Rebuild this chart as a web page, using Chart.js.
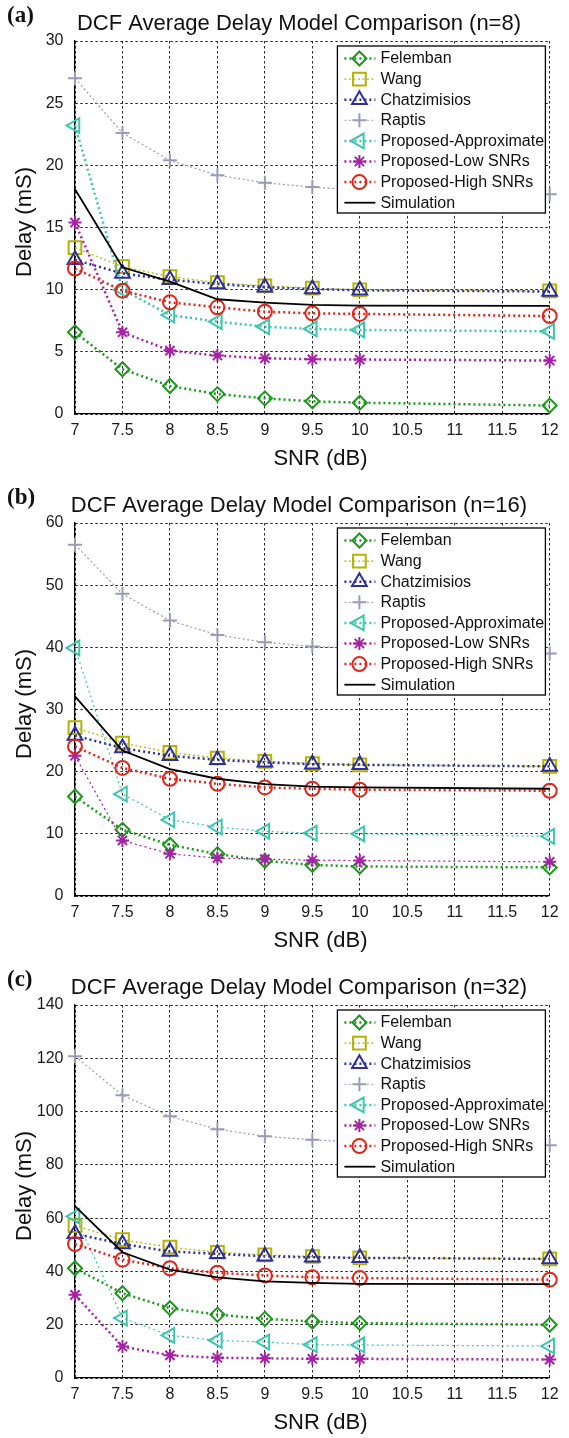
<!DOCTYPE html>
<html>
<head>
<meta charset="utf-8">
<script src="https://cdn.jsdelivr.net/npm/chart.js@4.4.1/dist/chart.umd.min.js"></script>
<style>
    html, body { margin: 0; padding: 0; background: #fff; overflow: hidden; }
    .panel { position: absolute; left: 0; width: 569px; height: 482px; }
</style>
</head>
<body>
<div class="panel" style="top:0px"><canvas id="chartA" width="569" height="482"></canvas></div>
<div class="panel" style="top:482px"><canvas id="chartB" width="569" height="482"></canvas></div>
<div class="panel" style="top:964px"><canvas id="chartC" width="569" height="482"></canvas></div>
<script>
// x values (SNR in dB) where the models were evaluated
const snr = [7, 7.5, 8, 8.5, 9, 9.5, 10, 12];
const snrTicks = [7, 7.5, 8, 8.5, 9, 9.5, 10, 10.5, 11, 11.5, 12];

const modelNames = [
    'Felemban',
    'Wang',
    'Chatzimisios',
    'Raptis',
    'Proposed-Approximate',
    'Proposed-Low SNRs',
    'Proposed-High SNRs',
    'Simulation'
];

// n = 8
const felembanN8 = [6.57, 3.6, 2.25, 1.6, 1.26, 1.02, 0.91, 0.68];
const wangN8 = [13.38, 11.85, 11.05, 10.56, 10.3, 10.12, 9.98, 9.9];
const chatzN8 = [12.4, 11.3, 10.8, 10.45, 10.2, 10.05, 9.95, 9.85];
const raptisN8 = [27.0, 22.6, 20.4, 19.2, 18.6, 18.25, 18.0, 17.67];
const approxN8 = [23.2, 10.0, 7.96, 7.43, 7.02, 6.84, 6.76, 6.65];
const lowN8 = [15.4, 6.57, 5.1, 4.7, 4.48, 4.4, 4.38, 4.3];
const highN8 = [11.7, 9.92, 8.98, 8.58, 8.23, 8.1, 8.05, 7.88];
const simN8 = [18.08, 11.8, 10.64, 9.23, 8.96, 8.77, 8.71, 8.69];

// n = 16
const felembanN16 = [16.0, 10.65, 8.24, 6.74, 5.66, 5.0, 4.75, 4.6];
const wangN16 = [27.1, 24.6, 23.1, 22.2, 21.65, 21.3, 21.1, 20.85];
const chatzN16 = [25.8, 23.8, 22.55, 21.9, 21.5, 21.2, 21.1, 20.85];
const raptisN16 = [56.5, 48.6, 44.3, 42.0, 40.8, 40.15, 39.8, 39.0];
const approxN16 = [39.9, 16.4, 12.26, 11.1, 10.4, 10.1, 10.0, 9.6];
const lowN16 = [22.56, 8.93, 6.79, 6.1, 5.93, 5.75, 5.7, 5.5];
const highN16 = [24.06, 20.6, 18.86, 18.05, 17.46, 17.25, 17.1, 16.93];
const simN16 = [32.1, 23.4, 20.4, 18.86, 18.0, 17.6, 17.46, 17.25];

// n = 32
const felembanN32 = [41.2, 31.8, 26.2, 23.8, 22.2, 21.2, 20.6, 20.0];
const wangN32 = [57.2, 51.9, 49.1, 47.2, 46.2, 45.6, 45.1, 44.7];
const chatzN32 = [54.1, 50.3, 47.5, 46.6, 45.7, 45.3, 45.1, 44.7];
const raptisN32 = [120.8, 106.1, 98.2, 93.4, 90.7, 89.4, 88.5, 87.4];
const approxN32 = [60.7, 22.5, 16.0, 14.1, 13.5, 12.5, 12.4, 12.0];
const lowN32 = [31.2, 11.8, 8.5, 7.6, 7.4, 7.2, 7.2, 6.9];
const highN32 = [50.3, 44.4, 41.2, 39.5, 38.5, 37.8, 37.5, 36.9];
const simN32 = [64.5, 47.2, 40.7, 37.8, 36.3, 35.7, 35.3, 35.2];

// y axis ranges per panel
const yMaxes = [30, 60, 140];
const ySteps = [5, 10, 20];

// look of each series (MATLAB-like markers)
const seriesStyles = [
    { color: '#1a9a1a', point: 'rectRot', radius: 7, rotation: 0, width: 2.5, dash: [2, 3] },
    { color: '#b3b300', point: 'rect', radius: 9, rotation: 0, width: 1.2, dash: [2, 2.5] },
    { color: '#2e2e9c', point: 'triangle', radius: 8.5, rotation: 0, width: 2.5, dash: [2, 3] },
    { color: '#9b9bb8', point: 'cross', radius: 7, rotation: 0, width: 1, dash: [2, 2.5] },
    { color: '#3cc6ac', point: 'triangle', radius: 8.5, rotation: -90, width: 2.5, dash: [2, 3] },
    { color: '#a521a5', point: 'star', radius: 6.5, rotation: 0, width: 2.5, dash: [2, 3] },
    { color: '#e0261c', point: 'circle', radius: 7, rotation: 0, width: 2.5, dash: [2, 3] },
    { color: '#000000', point: false, radius: 0, rotation: 0, width: 1.8, dash: [] }
];

const fontSans = '"Liberation Sans", Arial, Helvetica, sans-serif';

// title, panel letter, axis titles and the in-plot legend
const panelDecor = {
    id: 'panelDecor',
    afterDraw(chart, args, opts) {
        const ctx = chart.ctx;
        const area = chart.chartArea;
        ctx.save();
        ctx.fillStyle = '#111';

        ctx.font = 'bold 23px "Liberation Serif", "Times New Roman", serif';
        ctx.textAlign = 'left';
        ctx.textBaseline = 'alphabetic';
        ctx.fillText(opts.letter, 7, 22);

        ctx.font = '22px ' + fontSans;
        ctx.textAlign = 'center';
        ctx.fillText(opts.title, 299, 29.5);

        ctx.textBaseline = 'middle';
        ctx.fillText('SNR (dB)', 320.5, 458.5);
        ctx.save();
        ctx.translate(24.5, 222);
        ctx.rotate(-Math.PI / 2);
        ctx.fillText('Delay (mS)', 0, 0);
        ctx.restore();

        // legend box
        const lw = 208, lh = 167;
        const lx = area.right - 4.3 - lw;
        const ly = area.top + 5;
        ctx.fillStyle = '#fff';
        ctx.fillRect(lx, ly, lw, lh);
        ctx.strokeStyle = '#000';
        ctx.lineWidth = 1.3;
        ctx.strokeRect(lx, ly, lw, lh);

        ctx.font = '16px ' + fontSans;
        ctx.textAlign = 'left';
        modelNames.forEach((name, i) => {
            const st = seriesStyles[i];
            const y = ly + 12.5 + i * 20.6;
            ctx.save();
            ctx.strokeStyle = st.color;
            ctx.lineWidth = st.width;
            ctx.setLineDash(st.dash);
            ctx.beginPath();
            ctx.moveTo(lx + 7, y);
            ctx.lineTo(lx + 38, y);
            ctx.stroke();
            ctx.setLineDash([]);
            if (st.point) {
                ctx.fillStyle = 'rgba(0,0,0,0)';
                ctx.lineWidth = 2;
                Chart.helpers.drawPoint(ctx, {
                    pointStyle: st.point,
                    radius: st.radius,
                    rotation: st.rotation,
                    borderWidth: 2
                }, lx + 22, y);
            }
            ctx.restore();
            ctx.fillStyle = '#111';
            ctx.fillText(name, lx + 43, y + 0.5);
        });
        ctx.restore();
    }
};

function makePanel(canvasId, letter, n, series, yIndex, thinLines) {
    const datasets = series.map((values, i) => {
        const st = seriesStyles[i];
        return {
            label: modelNames[i],
            data: snr.map((x, k) => ({ x: x, y: values[k] })),
            borderColor: st.color,
            borderWidth: thinLines.includes(i) ? 1.2 : st.width,
            borderDash: st.dash,
            pointStyle: st.point,
            pointRadius: st.radius,
            pointRotation: st.rotation,
            pointBorderWidth: 2,
            pointBorderColor: st.color,
            pointBackgroundColor: 'rgba(0,0,0,0)',
            fill: false,
            tension: 0,
            clip: false,
            order: series.length - i
        };
    });

    new Chart(document.getElementById(canvasId).getContext('2d'), {
        type: 'line',
        data: { datasets: datasets },
        plugins: [panelDecor],
        options: {
            responsive: false,
            animation: false,
            events: [],
            layout: { padding: { top: 41, right: 19.3, bottom: 0, left: 0 } },
            plugins: {
                legend: { display: false },
                tooltip: { enabled: false },
                panelDecor: {
                    letter: letter,
                    title: 'DCF Average Delay Model Comparison (n=' + n + ')'
                }
            },
            scales: {
                x: {
                    type: 'linear',
                    min: 7,
                    max: 12,
                    afterBuildTicks: scale => {
                        scale.ticks = snrTicks.map(v => ({ value: v }));
                    },
                    afterFit: scale => { scale.height = 68; },
                    ticks: {
                        padding: 7,
                        maxRotation: 0,
                        autoSkip: false,
                        color: '#1a1a1a',
                        font: { family: fontSans, size: 16 },
                        callback: v => String(v)
                    },
                    grid: { color: '#111', lineWidth: 0.9, drawTicks: false },
                    border: { display: true, color: '#000', width: 1.3, dash: [2.5, 2.5] }
                },
                y: {
                    min: 0,
                    max: yMaxes[yIndex],
                    afterFit: scale => { scale.width = 75; },
                    ticks: {
                        stepSize: ySteps[yIndex],
                        padding: 11.5,
                        color: '#1a1a1a',
                        font: { family: fontSans, size: 16 },
                        callback: v => String(v)
                    },
                    grid: { color: '#111', lineWidth: 0.9, drawTicks: false },
                    border: { display: true, color: '#000', width: 1.3, dash: [2.5, 2.5] }
                }
            }
        }
    });
}

document.addEventListener('DOMContentLoaded', function() {
    makePanel('chartA', '(a)', 8,
        [felembanN8, wangN8, chatzN8, raptisN8, approxN8, lowN8, highN8, simN8], 0, [1, 3]);
    makePanel('chartB', '(b)', 16,
        [felembanN16, wangN16, chatzN16, raptisN16, approxN16, lowN16, highN16, simN16], 1, [3, 4, 5]);
    makePanel('chartC', '(c)', 32,
        [felembanN32, wangN32, chatzN32, raptisN32, approxN32, lowN32, highN32, simN32], 2, [1, 3, 4]);
});
</script>
</body>
</html>
